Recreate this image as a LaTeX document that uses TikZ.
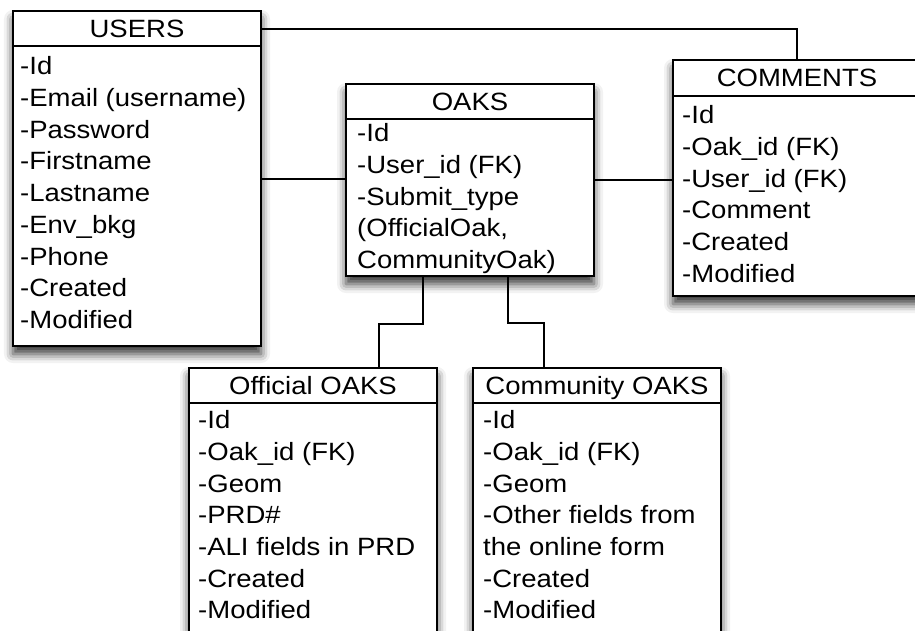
\documentclass[tikz,border=0pt]{standalone}
\usepackage{fontspec}
\setmainfont{Liberation Sans}[FakeStretch=1.1]
\usetikzlibrary{shadows.blur}

\begin{document}
\begin{tikzpicture}[
    x=1pt, y=-1pt,
    tablebox/.style={draw, fill=white, line width=2pt, anchor=north west, inner sep=0pt,
        minimum width=248pt,
        blur shadow={shadow xshift=0pt, shadow yshift=-8pt, shadow blur radius=9pt, shadow opacity=80}},
    tablehead/.style={draw, line width=2pt, anchor=north west, inner sep=0pt,
        minimum width=248pt, minimum height=35pt, text height=17.9pt, text depth=0pt,
        font=\fontsize{25}{31.7}\selectfont},
    fields/.style={anchor=north west, align=left, inner sep=0pt,
        font=\fontsize{25}{31.7}\selectfont},
    link/.style={line width=2pt}
  ]
  \useasboundingbox (0,0) rectangle (915,630);
  \clip (0,0) rectangle (915,630);

  % --- USERS ---
  \node[tablebox, minimum height=335pt] (users) at (12,10) {};
  \node[tablehead] (usershead) at (users.north west) {USERS};
  \node[fields] (usersfields) at (20,56.5) {-Id\\-Email (username)\\-Password\\-Firstname\\-Lastname\\-Env\_bkg\\-Phone\\-Created\\-Modified};

  % --- OAKS ---
  \node[tablebox, minimum height=192pt] (oaks) at (345,83) {};
  \node[tablehead] (oakshead) at (oaks.north west) {OAKS};
  \node[fields] (oaksfields) at (357,123.3) {-Id\\-User\_id (FK)\\-Submit\_type\\(OfficialOak,\\CommunityOak)};

  % --- COMMENTS ---
  \node[tablebox, minimum height=236pt] (comments) at (672,59) {};
  \node[tablehead, minimum height=36pt] (commentshead) at (comments.north west) {COMMENTS};
  \node[fields] (commentsfields) at (682,105.3) {-Id\\-Oak\_id (FK)\\-User\_id (FK)\\-Comment\\-Created\\-Modified};

  % --- Official OAKS ---
  \node[tablebox, minimum height=300pt] (official) at (188,367) {};
  \node[tablehead] (officialhead) at (official.north west) {Official OAKS};
  \node[fields] (officialfields) at (198,410.3) {-Id\\-Oak\_id (FK)\\-Geom\\-PRD\#\\-ALI fields in PRD\\-Created\\-Modified};

  % --- Community OAKS ---
  \node[tablebox, minimum height=300pt] (community) at (472,367) {};
  \node[tablehead] (communityhead) at (community.north west) {Community OAKS};
  \node[fields] (communityfields) at (483,410.3) {-Id\\-Oak\_id (FK)\\-Geom\\-Other fields from\\the online form\\-Created\\-Modified};

  % --- links ---
  \draw[link] (usershead.east) -| (comments.north);
  \draw[link] (users.east) -- (users.east -| oaks.west);
  \draw[link] (oaks.east) -- (oaks.east -| comments.west);
  \draw[link] ([xshift=-47pt]oaks.south) -- ++(0,47) -| ([xshift=66pt]official.north);
  \draw[link] ([xshift=38pt]oaks.south) -- ++(0,46) -| ([xshift=-53pt]community.north);
\end{tikzpicture}
\end{document}
